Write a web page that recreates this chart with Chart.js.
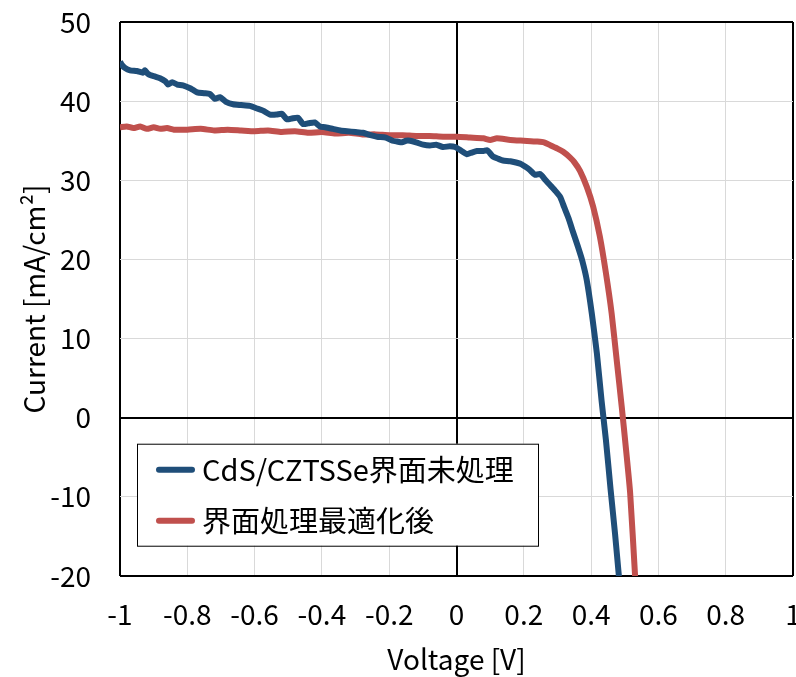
<!DOCTYPE html>
<html>
<head>
<meta charset="utf-8">
<script src="https://cdn.jsdelivr.net/npm/chart.js@4.4.1/dist/chart.umd.min.js"></script>
<style>
  html, body { margin: 0; padding: 0; background: #fff; }
  #jvChart { display: block; }
</style>
</head>
<body>
<canvas id="jvChart" width="796" height="677"></canvas>
<script>
// J-V curves: untreated CdS/CZTSSe interface vs. optimised interface treatment
const seriesNames = ['CdS/CZTSSe界面未処理', '界面処理最適化後'];
const seriesColors = ['#1F4E79', '#C0504D'];

const voltageUntreated = [
  -1.000, -0.995, -0.985, -0.970, -0.950, -0.932, -0.926, -0.918, -0.911, -0.895,
  -0.881, -0.865, -0.857, -0.845, -0.830, -0.813, -0.790, -0.771, -0.750, -0.733,
  -0.718, -0.703, -0.685, -0.664, -0.640, -0.614, -0.595, -0.575, -0.554, -0.535,
  -0.519, -0.504, -0.490, -0.471, -0.456, -0.440, -0.421, -0.406, -0.390, -0.367,
  -0.345, -0.325, -0.300, -0.278, -0.255, -0.236, -0.210, -0.190, -0.177, -0.162,
  -0.150, -0.138, -0.120, -0.099, -0.079, -0.060, -0.040, -0.020, -0.004, 0.015,
  0.031, 0.045, 0.061, 0.080, 0.091, 0.100, 0.108, 0.125, 0.138, 0.160,
  0.189, 0.205, 0.218, 0.233, 0.248, 0.265, 0.278, 0.293, 0.308, 0.320,
  0.333, 0.346, 0.361, 0.374, 0.387, 0.402, 0.417, 0.431, 0.444, 0.458,
  0.471, 0.483
];
const currentUntreated = [
  45.0, 44.6, 44.2, 43.9, 43.8, 43.6, 43.9, 43.5, 43.3, 43.1,
  42.9, 42.5, 42.1, 42.4, 42.1, 42.0, 41.6, 41.1, 41.0, 40.9,
  40.3, 40.5, 39.9, 39.6, 39.5, 39.4, 39.1, 38.8, 38.3, 38.3,
  38.4, 37.7, 37.8, 37.9, 37.1, 37.2, 37.3, 36.8, 36.7, 36.5,
  36.3, 36.2, 36.1, 36.0, 35.7, 35.5, 35.4, 35.0, 34.9, 34.8,
  35.0, 35.0, 34.8, 34.5, 34.4, 34.5, 34.2, 34.3, 34.2, 33.7,
  33.3, 33.5, 33.7, 33.7, 33.8, 33.4, 33.0, 32.7, 32.5, 32.4,
  32.1, 31.7, 31.3, 30.7, 30.8, 30.0, 29.4, 28.7, 27.9, 26.6,
  25.2, 23.5, 21.6, 19.8, 17.4, 13.2, 8.2, 2.2, -2.8, -9.1,
  -14.6, -20.2
];

const voltageTreated = [
  -1.00, -0.98, -0.96, -0.94, -0.92, -0.90, -0.88, -0.86, -0.84, -0.80,
  -0.76, -0.72, -0.68, -0.64, -0.60, -0.56, -0.52, -0.48, -0.44, -0.40,
  -0.36, -0.32, -0.28, -0.24, -0.20, -0.16, -0.12, -0.08, -0.04, 0.00,
  0.04, 0.08, 0.10, 0.12, 0.16, 0.20, 0.24, 0.26, 0.28, 0.30,
  0.317, 0.337, 0.350, 0.367, 0.387, 0.406, 0.426, 0.444, 0.461, 0.476,
  0.491, 0.504, 0.516, 0.531
];
const currentTreated = [
  36.7, 36.8, 36.6, 36.8, 36.5, 36.7, 36.5, 36.6, 36.4, 36.4,
  36.5, 36.3, 36.4, 36.3, 36.2, 36.3, 36.1, 36.2, 36.0, 36.1,
  35.9, 36.0, 35.8, 35.8, 35.7, 35.7, 35.6, 35.6, 35.5, 35.5,
  35.4, 35.3, 35.1, 35.3, 35.1, 35.0, 34.9, 34.8, 34.4, 34.0,
  33.6, 32.9, 32.3, 31.2, 29.2, 26.7, 22.9, 18.3, 13.2, 7.3,
  1.4, -4.1, -9.5, -20.2
];

const xRange = [-1, 1];
const yRange = [-20, 50];

const toPoints = (xs, ys) => xs.map((x, i) => ({ x: x, y: ys[i] }));

Chart.defaults.font.family = "'Noto Sans CJK JP', 'Noto Sans', sans-serif";
Chart.defaults.color = '#000';

// black lines on the frame edges and through zero, light grey elsewhere
const gridColor = (min, max) => (ctx) => {
  const v = ctx.tick ? ctx.tick.value : null;
  return (v === 0 || v === min || v === max) ? '#000' : '#d9d9d9';
};
const gridWidth = (min, max) => (ctx) => {
  const v = ctx.tick ? ctx.tick.value : null;
  return (v === 0 || v === min || v === max) ? 2 : 1;
};

// "-1", "-0.8", ..., "0", ..., "1"
const tickText = (value) => String(Number(value.toFixed(1)));

// boxed legend sitting inside the plot, under the zero line
const insideLegend = {
  id: 'insideLegend',
  afterDraw(chart) {
    const { ctx, chartArea, scales } = chart;
    const boxLeft = chartArea.left + 17;
    const boxTop = scales.y.getPixelForValue(0) + 26;
    const boxW = 401;
    const boxH = 102;
    ctx.save();
    ctx.fillStyle = '#fff';
    ctx.fillRect(boxLeft, boxTop, boxW, boxH);
    ctx.strokeStyle = '#000';
    ctx.lineWidth = 1;
    ctx.strokeRect(boxLeft + 0.5, boxTop + 0.5, boxW, boxH);

    ctx.font = "29px 'Noto Sans CJK JP'";
    ctx.textBaseline = 'middle';
    ctx.lineCap = 'round';
    chart.data.datasets.forEach((ds, i) => {
      const rowY = boxTop + 26 + i * 51;
      ctx.strokeStyle = ds.borderColor;
      ctx.lineWidth = 6;
      ctx.beginPath();
      ctx.moveTo(boxLeft + 22, rowY);
      ctx.lineTo(boxLeft + 55, rowY);
      ctx.stroke();
      ctx.fillStyle = '#000';
      ctx.fillText(ds.label, boxLeft + 65, rowY);
    });
    ctx.restore();
  }
};

new Chart(document.getElementById('jvChart'), {
  type: 'scatter',
  data: {
    datasets: [
      {
        label: seriesNames[0],
        data: toPoints(voltageUntreated, currentUntreated),
        borderColor: seriesColors[0],
        backgroundColor: seriesColors[0],
        borderWidth: 6,
        showLine: true,
        pointRadius: 0,
        tension: 0.2,
        borderJoinStyle: 'round'
      },
      {
        label: seriesNames[1],
        data: toPoints(voltageTreated, currentTreated),
        borderColor: seriesColors[1],
        backgroundColor: seriesColors[1],
        borderWidth: 6,
        showLine: true,
        pointRadius: 0,
        tension: 0.2,
        borderJoinStyle: 'round'
      }
    ]
  },
  plugins: [insideLegend],
  options: {
    responsive: false,
    animation: false,
    devicePixelRatio: 1,
    layout: { padding: { top: 22, right: 3, left: 0, bottom: 0 } },
    plugins: {
      legend: { display: false },
      tooltip: { enabled: false }
    },
    scales: {
      x: {
        type: 'linear',
        min: xRange[0],
        max: xRange[1],
        border: { display: false },
        grid: {
          color: gridColor(xRange[0], xRange[1]),
          lineWidth: gridWidth(xRange[0], xRange[1]),
          drawTicks: false
        },
        ticks: {
          stepSize: 0.2,
          padding: 22,
          maxRotation: 0,
          autoSkip: false,
          font: { size: 28 },
          callback: tickText
        },
        title: {
          display: true,
          text: 'Voltage [V]',
          font: { size: 28 },
          padding: { top: 0, bottom: 1 }
        },
        afterFit(scale) {
          scale.height = 101;
          scale.paddingLeft = 0;
          scale.paddingRight = 0;
        }
      },
      y: {
        type: 'linear',
        min: yRange[0],
        max: yRange[1],
        border: { display: false },
        grid: {
          color: gridColor(yRange[0], yRange[1]),
          lineWidth: gridWidth(yRange[0], yRange[1]),
          drawTicks: false
        },
        ticks: {
          stepSize: 10,
          padding: 29,
          font: { size: 28 }
        },
        title: {
          display: true,
          text: 'Current [mA/cm²]',
          font: { size: 28 },
          padding: { top: 18, bottom: 0 }
        },
        afterFit(scale) {
          scale.width = 120;
          scale.paddingTop = 0;
          scale.paddingBottom = 0;
        }
      }
    }
  }
});
</script>
</body>
</html>
